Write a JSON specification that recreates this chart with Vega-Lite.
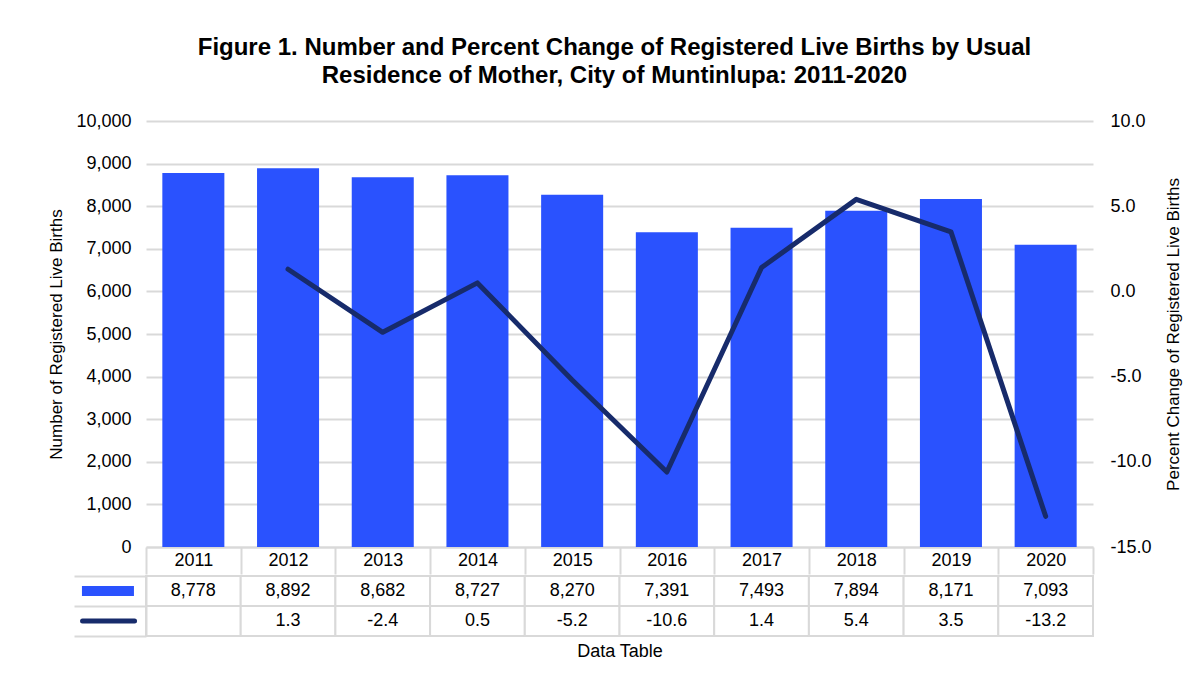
{
  "$schema": "https://vega.github.io/schema/vega-lite/v6.json",
  "padding": {"left": 47, "top": 36, "right": 5, "bottom": 5},
  "background": "white",
  "config": {
    "font": "Liberation Sans",
    "view": {"stroke": null},
    "concat": {"spacing": 0},
    "locale": {"number": {"decimal": ".", "thousands": ",", "grouping": [3], "currency": ["$", ""], "minus": "-"}}
  },
  "title": {
    "text": ["Figure 1. Number and Percent Change of Registered Live Births by Usual", "Residence of Mother, City of Muntinlupa: 2011-2020"],
    "fontSize": 24, "fontWeight": "bold", "color": "#000", "anchor": "middle", "lineHeight": 28, "offset": 24
  },
  "data": {"values": [
    {"year": "2011", "births": 8778, "pct": null},
    {"year": "2012", "births": 8892, "pct": 1.3},
    {"year": "2013", "births": 8682, "pct": -2.4},
    {"year": "2014", "births": 8727, "pct": 0.5},
    {"year": "2015", "births": 8270, "pct": -5.2},
    {"year": "2016", "births": 7391, "pct": -10.6},
    {"year": "2017", "births": 7493, "pct": 1.4},
    {"year": "2018", "births": 7894, "pct": 5.4},
    {"year": "2019", "births": 8171, "pct": 3.5},
    {"year": "2020", "births": 7093, "pct": -13.2}
  ]},
  "vconcat": [
    {
      "width": 947, "height": 426,
      "encoding": {
        "x": {"field": "year", "type": "ordinal", "scale": {"paddingInner": 0, "paddingOuter": 0},
          "axis": {"title": null, "labelAngle": 0, "labelFontSize": 18, "labelColor": "#000", "tickBand": "extent", "tickSize": 27, "tickColor": "#d9d9d9", "tickWidth": 2, "domainColor": "#d9d9d9", "domainWidth": 2, "labelPadding": -23}}
      },
      "layer": [
        {
          "mark": {"type": "bar", "width": {"band": 0.655}, "color": "#2a52fe"},
          "encoding": {"y": {"field": "births", "type": "quantitative", "scale": {"domain": [0, 10000], "nice": false},
            "axis": {"title": "Number of Registered Live Births", "titleFontSize": 17, "titleFontWeight": "normal", "titleColor": "#000", "titlePadding": 10, "values": [0,1000,2000,3000,4000,5000,6000,7000,8000,9000,10000], "format": ",d", "labelFontSize": 18, "labelColor": "#000", "labelPadding": 15, "ticks": false, "domain": false, "gridColor": "#d9d9d9", "gridWidth": 2}}}
        },
        {
          "mark": {"type": "line", "color": "#172b6b", "strokeWidth": 5, "strokeCap": "round", "strokeJoin": "round"},
          "encoding": {"y": {"field": "pct", "type": "quantitative", "scale": {"domain": [-15, 10], "nice": false},
            "axis": {"orient": "right", "title": "Percent Change of Registered Live Births", "titleAngle": 270, "titleBaseline": "top", "titleFontSize": 17, "titleFontWeight": "normal", "titleColor": "#000", "titlePadding": 14, "values": [-15,-10,-5,0,5,10], "format": ".1f", "labelFontSize": 18, "labelColor": "#000", "labelPadding": 17, "ticks": false, "domain": false, "grid": false}}}
        }
      ],
      "resolve": {"scale": {"y": "independent"}}
    },
    {
      "width": 947, "height": 60,
      "transform": [{"fold": ["births", "pct"], "as": ["row", "value"]}],
      "encoding": {
        "x": {"field": "year", "type": "ordinal", "scale": {"paddingInner": 0, "paddingOuter": 0},
          "axis": {"title": "Data Table", "labels": false, "ticks": false, "domain": false, "titleFontSize": 18, "titleFontWeight": "normal", "titleColor": "#000", "titlePadding": 6}},
        "y": {"field": "row", "type": "nominal", "scale": {"domain": ["births", "pct"], "paddingInner": 0, "paddingOuter": 0}}
      },
      "layer": [
        {
          "mark": {"type": "rect", "fill": "white", "stroke": "#d9d9d9", "strokeWidth": 2},
          "encoding": {"y": {"field": "row", "type": "nominal", "axis": {"title": null, "labels": false, "tickBand": "extent", "tickSize": 72, "tickColor": "#d9d9d9", "tickWidth": 2, "domainColor": "#d9d9d9", "domainWidth": 2}}}
        },
        {
          "transform": [{"filter": "datum.row === 'births'"}],
          "mark": {"type": "text", "fontSize": 18, "color": "#000"},
          "encoding": {"y": {"field": "row", "type": "nominal", "axis": null}, "text": {"field": "value", "type": "quantitative", "format": ","}}
        },
        {
          "transform": [{"filter": "datum.row === 'pct' && isValid(datum.value)"}],
          "mark": {"type": "text", "fontSize": 18, "color": "#000"},
          "encoding": {"y": {"field": "row", "type": "nominal", "axis": null}, "text": {"field": "value", "type": "quantitative", "format": ".1f"}}
        },
        {
          "data": {"values": [{}]},
          "mark": {"type": "point", "shape": "M-11.14,-0.5H-5.94V0.5H-11.14Z", "size": 400, "filled": true, "fill": "#2a52fe", "strokeWidth": 0, "opacity": 1},
          "encoding": {"x": {"datum": "2011", "type": "ordinal"}, "y": {"datum": "births", "type": "nominal", "axis": {"title": null, "orient": "left", "labels": false, "ticks": false, "domainColor": "#d9d9d9", "domainWidth": 2}}}
        },
        {
          "data": {"values": [{}]},
          "mark": {"type": "point", "shape": "M-11.08,0H-5.88", "size": 400, "filled": false, "stroke": "#172b6b", "strokeWidth": 5, "strokeCap": "round", "opacity": 1},
          "encoding": {"x": {"datum": "2011", "type": "ordinal"}, "y": {"datum": "pct", "type": "nominal", "axis": null}}
        }
      ],
      "resolve": {"axis": {"y": "independent"}}
    }
  ]
}
